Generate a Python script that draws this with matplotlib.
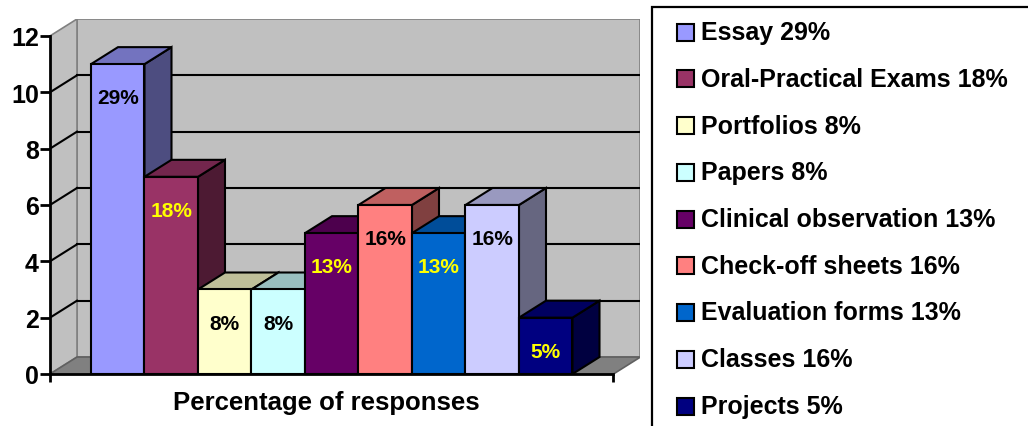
import matplotlib
matplotlib.use("Agg")
import matplotlib.pyplot as plt
from matplotlib.patches import Polygon, Rectangle
from matplotlib.colors import to_rgb

categories = ["Essay", "Oral-Practical Exams", "Portfolios", "Papers",
              "Clinical observation", "Check-off sheets", "Evaluation forms",
              "Classes", "Projects"]
counts = [11, 7, 3, 3, 5, 6, 5, 6, 2]
percent_labels = ["29%", "18%", "8%", "8%", "13%", "16%", "13%", "16%", "5%"]
bar_colors = ["#9999FF", "#993366", "#FFFFCC", "#CCFFFF", "#660066",
              "#FF8080", "#0066CC", "#CCCCFF", "#000080"]
label_colors = ["black", "#FFFF00", "black", "black", "#FFFF00",
                "black", "#FFFF00", "black", "#FFFF00"]
y_ticks = [0, 2, 4, 6, 8, 10, 12]
x_title = "Percentage of responses"

plt.rcParams["font.family"] = ["Liberation Sans", "DejaVu Sans"]
plt.rcParams["font.weight"] = "bold"

W, H = 1028, 427
fig = plt.figure(figsize=(W / 100, H / 100), dpi=100)

# 3-D look: depth offset in data units, gap before first bar
DX, DY = 0.505, 0.603
gap = 0.766
n = len(counts)
floor_right = n + 2 * gap
xmax = floor_right + DX
ymax = y_ticks[-1] + DY
px_x = 53.5
px_y = 28.17

ax = fig.add_axes([50 / W, (H - 375) / H, xmax * px_x / W, ymax * px_y / H])
ax.set_xlim(0, xmax)
ax.set_ylim(0, ymax)

wall = "#C0C0C0"
frame = "#808080"

# back wall, side wall, floor
ax.add_patch(Polygon([(DX, DY), (xmax, DY), (xmax, ymax), (DX, ymax)],
                     closed=True, facecolor=wall, edgecolor=frame, lw=1.2, zorder=0.5))
ax.add_patch(Polygon([(0, 0), (DX, DY), (DX, ymax), (0, y_ticks[-1])],
                     closed=True, facecolor=wall, edgecolor=frame, lw=1.2, zorder=0.5))
ax.add_patch(Polygon([(0, 0), (floor_right, 0), (xmax, DY), (DX, DY)],
                     closed=True, facecolor=frame, edgecolor="#606060", lw=1.2, zorder=0.6))

# gridlines on the walls
for v in y_ticks[1:-1]:
    ax.plot([DX, xmax], [v + DY, v + DY], color="black", lw=1.5, zorder=0.7)
    ax.plot([0, DX], [v, v + DY], color="black", lw=1.5, zorder=0.7)

def shade(c, f):
    r, g, b = to_rgb(c)
    return (r * f, g * f, b * f)

# bars, drawn left to right so nearer faces cover farther ones
for i, (v, c) in enumerate(zip(counts, bar_colors)):
    x = gap + i
    z = 2 + i
    ax.add_patch(Polygon([(x + 1, 0), (x + 1, v), (x + 1 + DX, v + DY), (x + 1 + DX, DY)],
                         closed=True, facecolor=shade(c, 0.5), edgecolor="black",
                         lw=1.5, zorder=z))
    ax.add_patch(Polygon([(x, v), (x + 1, v), (x + 1 + DX, v + DY), (x + DX, v + DY)],
                         closed=True, facecolor=shade(c, 0.75), edgecolor="black",
                         lw=1.5, zorder=z))
    ax.bar(x, v, width=1, align="edge", color=c, edgecolor="black", lw=1.5, zorder=z + 0.5)
    ax.text(x + 0.5, v - 1.2, percent_labels[i], ha="center", va="center",
            fontsize=15, fontweight="bold", color=label_colors[i], zorder=z + 0.6)

# axes
for s in ["top", "right"]:
    ax.spines[s].set_visible(False)
ax.spines["left"].set_bounds(0, y_ticks[-1])
ax.spines["bottom"].set_bounds(0, floor_right)
for s in ["left", "bottom"]:
    ax.spines[s].set_linewidth(2)
    ax.spines[s].set_zorder(30)
ax.set_yticks(y_ticks)
ax.set_yticklabels([str(t) for t in y_ticks], fontsize=18, fontweight="bold")
ax.set_xticks([0, floor_right])
ax.set_xticklabels(["", ""])
ax.tick_params(axis="y", length=7, width=2, pad=1)
ax.tick_params(axis="x", length=6, width=2)

fig.text(326 / W, 1 - 403 / H, x_title, ha="center", va="center",
         fontsize=18.5, fontweight="bold")

# legend panel
lg = fig.add_axes([0, 0, 1, 1], zorder=50)
lg.set_xlim(0, W)
lg.set_ylim(H, 0)
lg.axis("off")
lg.add_patch(Rectangle((652, 8), 400, 440, facecolor="white", edgecolor="black",
                       lw=1.6, clip_on=False))
for i, (name, pct, c) in enumerate(zip(categories, percent_labels, bar_colors)):
    y = 33 + 46.75 * i
    lg.add_patch(Rectangle((677, y - 8.5), 17, 17, facecolor=c, edgecolor="black", lw=1.5))
    lg.text(701, y, f"{name} {pct}", ha="left", va="center", fontsize=18,
            fontweight="bold")

fig.savefig("out.png", dpi=100)
